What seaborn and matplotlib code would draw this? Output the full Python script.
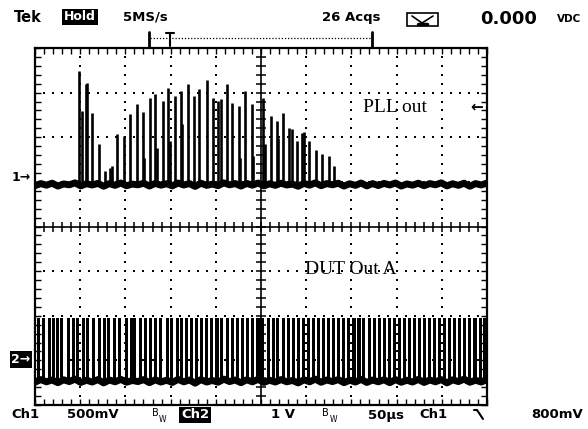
import numpy as np
import pandas as pd
import matplotlib
matplotlib.use("Agg")
import matplotlib.pyplot as plt
from matplotlib.lines import Line2D
from matplotlib.patches import Rectangle
import seaborn as sns

# scope settings
time_div_us = 50
ch1_volts_div = 0.5
ch2_volts_div = 1.0
ch1_ground_div = 1.09
ch2_ground_div = -2.98
trig_level_div = 2.68

# Ch1 "PLL out": spike times (us) and spike heights above baseline (V)
ch1_spike_t = [48.7, 52.0, 56.4, 57.5, 63.1, 70.8, 77.4, 83.0, 85.2, 90.7, 98.5,
               105.1, 112.8, 119.5, 120.6, 127.2, 132.7, 134.9, 141.6, 147.1,
               149.3, 154.8, 161.5, 162.6, 169.2, 175.9, 181.4, 190.3, 196.9,
               202.4, 205.8, 212.4, 217.9, 225.7, 226.8, 232.3, 240.0, 241.2,
               252.2, 254.4, 261.1, 267.7, 268.8, 274.3, 280.9, 284.3, 289.8,
               295.3, 297.5, 303.1, 310.8, 317.5, 325.2, 330.7]
ch1_spike_v = [1.27, 0.82, 1.12, 1.13, 0.80, 0.45, 0.15, 0.18, 0.20, 0.56, 0.54,
               0.78, 0.90, 0.81, 0.29, 0.96, 1.01, 0.40, 0.93, 1.08,
               0.48, 0.99, 1.04, 0.67, 1.12, 0.99, 1.07, 1.17, 0.96,
               0.93, 0.95, 1.12, 0.91, 0.87, 0.29, 1.04, 0.90, 0.31,
               0.96, 0.45, 0.76, 0.71, 0.52, 0.80, 0.63, 0.62, 0.48,
               0.57, 0.58, 0.48, 0.38, 0.34, 0.31, 0.20]
ch1_base_v = -0.07
ch1_noise_mv = [-18, 6, -12, 10, -22, 2, -8, 14, -20, 4, -10, 8, -24, 6, -14,
                12, -18, 0, -8, 10, -22, 8, -12, 4, -20, 12, -10, 6, -26, 10,
                -14, 0, -18, 14, -8, 6, -22, 8, -12, 12, -20, 4, -14, 10, -10,
                0, -24, 8, -12, 14, -18, 6, -8, 10, -22, 4, -14, 12, -20, 6,
                -16, 8, -10, 12, -22, 2, -12, 10, -18, 6, -8, 14, -20, 4, -14,
                10, -24, 6, -10, 12]

# Ch2 "DUT Out A": pulse start times (us)
ch2_pulse_t = [2.2, 7.7, 14.0, 19.1, 22.9, 27.3, 35.4, 41.3, 45.0, 52.3, 56.7,
               63.4, 69.7, 75.2, 79.6, 86.3, 91.8, 99.2, 104.7, 108.4, 115.0,
               120.2, 126.1, 131.3, 137.2, 144.6, 149.0, 155.6, 160.0, 165.4,
               171.2, 176.5, 182.9, 188.1, 193.8, 199.6, 205.0, 211.3, 216.4,
               222.0, 227.9, 233.2, 239.0, 244.5, 247.0, 250.3, 256.1, 261.8,
               267.0, 272.9, 278.3, 284.0, 289.6, 295.2, 300.8, 306.1, 312.0,
               317.5, 323.2, 328.6, 334.4, 339.9, 345.3, 351.2, 356.7, 362.1,
               368.0, 373.4, 379.1, 384.6, 390.2, 395.8, 401.3, 407.0, 412.4,
               418.1, 423.7, 429.0, 434.8, 440.3, 446.1, 451.5, 457.0, 462.8,
               468.2, 473.9, 479.3, 485.0, 490.6, 496.1]
ch2_low_v = -0.47
ch2_high_v = 0.93
ch2_pulse_w_us = 3.4
ch2_noise_mv = [-40, 20, -30, 10, -50, 15, -25, 30, -45, 5, -35, 20, -55, 10,
                -30, 25, -40, 0, -25, 20, -50, 15, -35, 5, -45, 25, -30, 10,
                -60, 20, -35, 0, -40, 30, -25, 10, -50, 15, -30, 25, -45, 5,
                -35, 20, -30, 0, -55, 15, -30, 30, -40, 10, -25, 20, -50, 5,
                -35, 25, -45, 10, -30, 15, -50, 20, -40, 5, -35, 25, -45, 10,
                -30, 20, -55, 15, -25, 30, -40, 5, -35, 20]

sns.set_theme(style="white")
plt.rcParams['font.family'] = ['DejaVu Sans']
plt.rcParams['text.color'] = 'black'

W, H = 588, 429
fig = plt.figure(figsize=(W / 100, H / 100), dpi=100)
fig.patch.set_facecolor('white')
ax = fig.add_axes([35 / W, 24 / H, 452 / W, 357 / H])
ax.set_facecolor('white')
ax.set_xlim(0, 10 * time_div_us)
ax.set_ylim(-4, 4)


def fx(px):
    return px / W


def fy(py):
    return 1 - py / H


def div_to_py(d):
    return 226.5 - d * 44.6


# graticule dots
minor_x = np.arange(10, 500, 10)
minor_y = np.arange(-3.8, 3.9, 0.2)
for gx in [50, 100, 150, 200, 300, 350, 400, 450]:
    ax.scatter(np.full(len(minor_y), gx), minor_y, s=2.5, marker='s', color='black', linewidths=0, zorder=1)
for gy in [-3, -2, -1, 1, 2, 3]:
    ax.scatter(minor_x, np.full(len(minor_x), gy), s=2.5, marker='s', color='black', linewidths=0, zorder=1)

# centre cross with ticks
ax.axhline(0, color='black', lw=1.2, zorder=2)
ax.axvline(250, color='black', lw=1.2, zorder=2)
ax.scatter(minor_x, np.zeros(len(minor_x)), marker='|', s=45, color='black', linewidths=1.1, zorder=2)
ax.scatter(np.full(len(minor_y), 250), minor_y, marker='_', s=45, color='black', linewidths=1.1, zorder=2)

# Ch1 trace
ch1 = pd.DataFrame({'t': np.linspace(0, 500, len(ch1_noise_mv)),
                    'v': ch1_base_v + np.array(ch1_noise_mv) / 1000})
ch1['y'] = ch1_ground_div + ch1['v'] / ch1_volts_div
sns.lineplot(data=ch1, x='t', y='y', ax=ax, color='black', lw=5,
             estimator=None, sort=False, zorder=3)
base1 = ch1_ground_div + ch1_base_v / ch1_volts_div
ax.vlines(ch1_spike_t, base1,
          base1 + np.array(ch1_spike_v) / ch1_volts_div,
          color='black', lw=1.9, zorder=3)

# Ch2 trace
ch2 = pd.DataFrame({'t': np.linspace(0, 500, len(ch2_noise_mv)),
                    'v': ch2_low_v + np.array(ch2_noise_mv) / 1000})
ch2['y'] = ch2_ground_div + ch2['v'] / ch2_volts_div
sns.lineplot(data=ch2, x='t', y='y', ax=ax, color='black', lw=5,
             estimator=None, sort=False, zorder=3)
ax.bar(ch2_pulse_t, (ch2_high_v - ch2_low_v) / ch2_volts_div,
       bottom=ch2_ground_div + ch2_low_v / ch2_volts_div,
       width=ch2_pulse_w_us, align='edge', color='black', linewidth=0, zorder=3)

# frame and edge ticks
ax.set_xticks(np.arange(0, 501, 10))
ax.set_yticks(np.arange(-4, 4.01, 0.2))
ax.tick_params(direction='in', length=4, width=1, colors='black',
               top=True, right=True, bottom=True, left=True,
               labelbottom=False, labelleft=False)
for sp in ax.spines.values():
    sp.set_visible(True)
    sp.set_color('black')
    sp.set_linewidth(1.6)
ax.set_xlabel('')
ax.set_ylabel('')
ax.grid(False)

# channel labels
fig.text(fx(395), fy(107), 'PLL out', family='Liberation Serif', fontsize=14,
         ha='center', va='center', color='black')
fig.text(fx(351), fy(270), 'DUT Out A', family='Liberation Serif', fontsize=14,
         ha='center', va='center', color='black')

# ground / trigger markers
fig.text(fx(21), fy(div_to_py(ch1_ground_div)), '1\u2192', fontsize=9,
         fontweight='bold', ha='center', va='center')
fig.text(fx(21), fy(div_to_py(ch2_ground_div)), '2\u2192', fontsize=9,
         fontweight='bold', ha='center', va='center', color='white',
         bbox=dict(facecolor='black', edgecolor='none', pad=1.2))
fig.text(fx(477), fy(div_to_py(trig_level_div)), '\u2190', fontsize=11,
         fontweight='bold', ha='center', va='center')

# header
fig.text(fx(28), fy(17), 'Tek', fontsize=10.5, fontweight='bold', ha='center', va='center')
fig.text(fx(80), fy(17), 'Hold', fontsize=9, fontweight='bold', ha='center', va='center',
         color='white', bbox=dict(facecolor='black', edgecolor='none', pad=1.2))
fig.text(fx(145), fy(17), '5MS/s', fontsize=9.5, fontweight='bold', ha='center', va='center')
fig.text(fx(351), fy(17), '26 Acqs', fontsize=9.5, fontweight='bold', ha='center', va='center')
tf = fig.transFigure
fig.add_artist(Rectangle((fx(407), fy(26)), fx(31), 13 / H, fill=False, lw=1.2,
                         edgecolor='black', transform=tf))
fig.add_artist(Line2D([fx(412), fx(422), fx(433)], [fy(16), fy(23), fy(16)],
                      color='black', lw=1.2, transform=tf))
fig.add_artist(Line2D([fx(418), fx(427)], [fy(24), fy(24)],
                      color='black', lw=2.5, transform=tf))
fig.text(fx(509), fy(19), '0.000', fontsize=13, fontweight='bold', ha='center', va='center')
fig.text(fx(569), fy(19), 'VDC', fontsize=7.5, fontweight='bold', ha='center', va='center')

# trigger position indicator
fig.add_artist(Line2D([fx(149), fx(149)], [fy(32), fy(47)], color='black', lw=2, transform=tf))
fig.add_artist(Line2D([fx(150), fx(372)], [fy(38), fy(38)], color='black', lw=0.9,
                      linestyle=(0, (1, 1.5)), transform=tf))
fig.add_artist(Line2D([fx(372), fx(372)], [fy(32), fy(47)], color='black', lw=2, transform=tf))
fig.add_artist(Line2D([fx(166), fx(174)], [fy(33), fy(33)], color='black', lw=1.5, transform=tf))
fig.add_artist(Line2D([fx(170), fx(170)], [fy(33), fy(46)], color='black', lw=1.5, transform=tf))

# footer
fy_b = fy(415)
fig.text(fx(25), fy_b, 'Ch1', fontsize=9.5, fontweight='bold', ha='center', va='center')
fig.text(fx(93), fy_b, '500mV', fontsize=9.5, fontweight='bold', ha='center', va='center')
fig.text(fx(155.5), fy(413), 'B', fontsize=7, ha='center', va='center')
fig.text(fx(163), fy(419), 'W', fontsize=5.5, ha='center', va='center')
fig.text(fx(195), fy_b, 'Ch2', fontsize=9.5, fontweight='bold', ha='center', va='center',
         color='white', bbox=dict(facecolor='black', edgecolor='none', pad=1.2))
fig.text(fx(283), fy_b, '1 V', fontsize=9.5, fontweight='bold', ha='center', va='center')
fig.text(fx(325.5), fy(413), 'B', fontsize=7, ha='center', va='center')
fig.text(fx(333), fy(419), 'W', fontsize=5.5, ha='center', va='center')
fig.text(fx(386), fy_b, '50\u00b5s', fontsize=9.5, fontweight='bold', ha='center', va='center')
fig.text(fx(433), fy_b, 'Ch1', fontsize=9.5, fontweight='bold', ha='center', va='center')
fig.add_artist(Line2D([fx(474), fx(477), fx(483)], [fy(410), fy(410), fy(419)],
                      color='black', lw=1.5, transform=tf))
fig.text(fx(557), fy_b, '800mV', fontsize=9.5, fontweight='bold', ha='center', va='center')

fig.savefig('out.png', dpi=100)
